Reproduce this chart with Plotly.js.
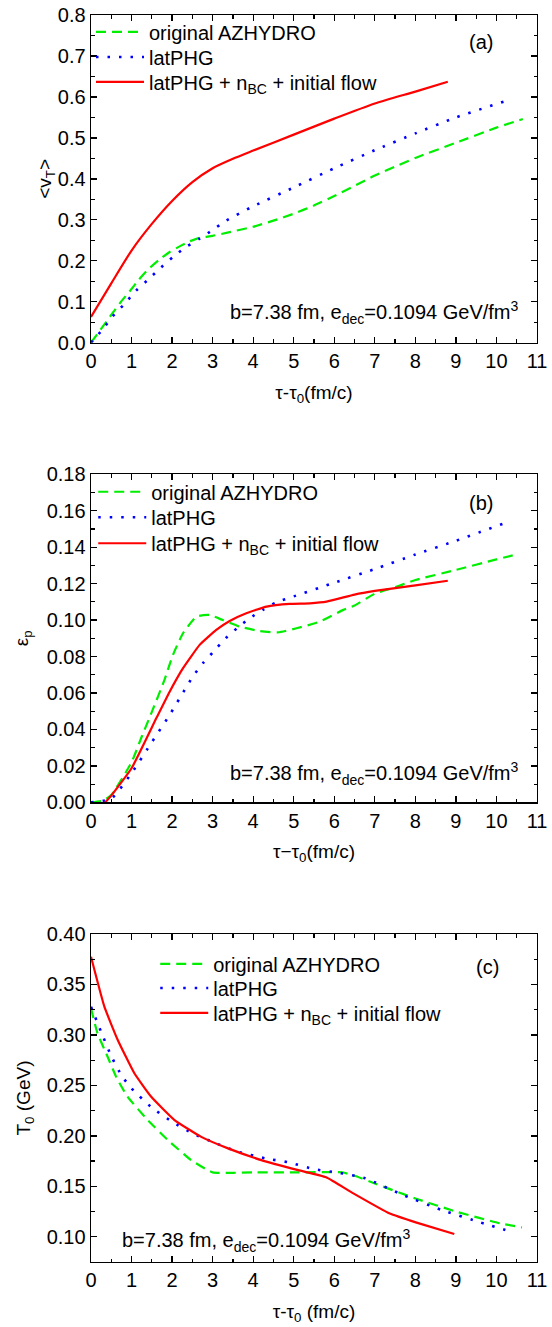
<!DOCTYPE html>
<html>
<head>
<meta charset="utf-8">
<script src="https://cdn.plot.ly/plotly-3.0.1.min.js"></script>
<style>html,body{margin:0;padding:0;background:#fff;}#chart{width:552px;height:1327px;}</style>
</head>
<body>
<div id="chart"></div>
<script>
// ---------- Data ----------
const seriesNames = ["original AZHYDRO", "latPHG", "latPHG + n<sub>BC</sub> + initial flow"];

// Panel (a): <v_T>
const a_orig_x = [0, 0.53, 0.74, 0.95, 1.18, 1.4, 1.69, 1.94, 2.22, 2.43, 2.68, 3.0, 3.42, 4, 4.5, 5, 5.5, 6, 6.5, 7, 7.5, 8, 9, 10, 10.65];
const a_orig_y = [0, 0.072, 0.100, 0.125, 0.154, 0.178, 0.203, 0.2215, 0.237, 0.2475, 0.256, 0.261, 0.270, 0.283, 0.298, 0.315, 0.335, 0.358, 0.383, 0.408, 0.430, 0.451, 0.488, 0.525, 0.546];
const a_lat_x = [0, 0.29, 0.53, 0.82, 1.11, 1.42, 1.73, 2.04, 2.35, 2.68, 2.99, 3.31, 4, 5, 6, 7, 8, 9, 10.2];
const a_lat_y = [0, 0.033, 0.064, 0.094, 0.127, 0.155, 0.184, 0.211, 0.234, 0.254, 0.2745, 0.2966, 0.333, 0.379, 0.426, 0.470, 0.511, 0.550, 0.589];
const a_full_x = [0, 0.5, 1, 1.5, 2, 2.5, 3, 3.5, 4, 5, 6, 7, 8, 8.8];
const a_full_y = [0.063, 0.145, 0.225, 0.290, 0.346, 0.392, 0.426, 0.449, 0.469, 0.508, 0.547, 0.584, 0.613, 0.637];

// Panel (b): epsilon_p
const b_orig_x = [0, 0.3, 0.5, 1, 1.25, 1.52, 1.81, 2.02, 2.27, 2.6, 2.92, 3.25, 3.67, 4.16, 4.61, 5.07, 5.64, 6.22, 6.5, 7, 7.5, 8, 9, 10, 10.5];
const b_orig_y = [0, 0.001, 0.004, 0.022, 0.036, 0.0507, 0.0671, 0.0808, 0.0928, 0.1019, 0.1028, 0.100, 0.0964, 0.094, 0.0933, 0.0955, 0.0991, 0.1056, 0.108, 0.1145, 0.118, 0.122, 0.1275, 0.1333, 0.136];
const b_lat_x = [0, 0.5, 1, 1.5, 1.94, 2.31, 2.51, 2.76, 3.02, 3.32, 3.63, 3.91, 4.24, 4.56, 5, 6, 7, 8, 9, 10.2];
const b_lat_y = [0, 0.002, 0.016, 0.033, 0.048, 0.0617, 0.069, 0.0763, 0.0827, 0.090, 0.0961, 0.101, 0.1056, 0.1096, 0.113, 0.1205, 0.128, 0.136, 0.1435, 0.1532];
const b_full_x = [0.35, 0.5, 1, 1.61, 1.94, 2.27, 2.68, 3.09, 3.42, 3.83, 4.33, 4.9, 5.4, 5.81, 6.5, 7, 8, 8.8];
const b_full_y = [0, 0.0037, 0.0187, 0.0461, 0.0607, 0.0736, 0.0864, 0.0946, 0.0995, 0.1037, 0.1074, 0.1089, 0.1092, 0.1101, 0.114, 0.116, 0.119, 0.1216];

// Panel (c): T_0 (GeV)
const c_orig_x = [0, 0.16, 0.41, 0.62, 0.9, 1.4, 1.89, 2.47, 3.0, 4, 5, 6.2, 6.47, 7.05, 8.0, 9.02, 10.09, 10.63];
const c_orig_y = [0.3264, 0.3016, 0.2784, 0.2586, 0.2388, 0.2157, 0.196, 0.176, 0.1638, 0.1638, 0.1638, 0.1638, 0.161, 0.152, 0.138, 0.1248, 0.1133, 0.1093];
const c_lat_x = [0, 0.25, 0.5, 0.75, 1, 1.5, 2, 2.5, 3, 3.6, 4.3, 4.9, 5.5, 6.1, 6.76, 7.7, 8.65, 9.6, 10.22];
const c_lat_y = [0.328, 0.303, 0.279, 0.260, 0.247, 0.228, 0.214, 0.2025, 0.194, 0.1845, 0.1777, 0.1735, 0.167, 0.1635, 0.158, 0.1413, 0.1265, 0.1143, 0.1067];
const c_full_x = [0, 0.33, 0.66, 1.07, 1.48, 2.06, 2.72, 3.38, 4.2, 5.11, 5.8, 6.47, 7.37, 8.03, 8.96];
const c_full_y = [0.3775, 0.328, 0.295, 0.262, 0.239, 0.2157, 0.199, 0.1876, 0.176, 0.166, 0.159, 0.143, 0.123, 0.114, 0.1027];

const panelLabels = ["(a)", "(b)", "(c)"];
const noteText = "b=7.38 fm, e<sub>dec</sub>=0.1094 GeV/fm<sup>3</sup>";

// ---------- Styles ----------
const FONT = "Liberation Sans, Arial, Helvetica, sans-serif";
const styles = [
  {color: "#00ee00", width: 2.2, dash: "10px,6px"},
  {color: "#0000ff", width: 2.6, dash: "2.5px,9px"},
  {color: "#ff0000", width: 2.2, dash: "solid"}
];

function mk(x, y, k, ax, leg, sm) {
  return {
    x: x, y: y, type: "scatter", mode: "lines", name: seriesNames[k],
    xaxis: "x" + ax, yaxis: "y" + ax, legend: leg,
    line: {color: styles[k].color, width: styles[k].width, dash: styles[k].dash, shape: "spline", smoothing: sm},
    hoverinfo: "skip"
  };
}

const traces = [
  mk(a_orig_x, a_orig_y, 0, "", "legend", 0.5),
  mk(a_lat_x, a_lat_y, 1, "", "legend2", 0.5),
  mk(a_full_x, a_full_y, 2, "", "legend3", 0.6),
  mk(b_orig_x, b_orig_y, 0, "2", "legend4", 0.5),
  mk(b_lat_x, b_lat_y, 1, "2", "legend5", 0.5),
  mk(b_full_x, b_full_y, 2, "2", "legend6", 0.4),
  mk(c_orig_x, c_orig_y, 0, "3", "legend7", 0.4),
  mk(c_lat_x, c_lat_y, 1, "3", "legend8", 0.5),
  mk(c_full_x, c_full_y, 2, "3", "legend9", 0.4)
];

function xax(anchor, titleText) {
  return {
    anchor: anchor, range: [0, 11], dtick: 1, tick0: 0,
    ticks: "inside", ticklen: 6, tickwidth: 1.3, tickcolor: "#000",
    minor: {dtick: 0.5, ticks: "inside", ticklen: 3.5, tickwidth: 1.2, tickcolor: "#000"},
    showline: true, linecolor: "#000", linewidth: 1.4, mirror: "ticks",
    showgrid: false, zeroline: false,
    tickfont: {family: FONT, size: 20, color: "#000"},
    title: {text: titleText, font: {family: FONT, size: 19, color: "#000"}, standoff: 14},
    domain: [0, 1], fixedrange: true
  };
}
function yax(anchor, domain, range, dtick, minorD, fmt, titleText, standoff) {
  return {
    anchor: anchor, domain: domain, range: range, dtick: dtick, tick0: 0, tickformat: fmt,
    ticks: "inside", ticklen: 6, tickwidth: 1.3, tickcolor: "#000",
    minor: {dtick: minorD, ticks: "inside", ticklen: 3.5, tickwidth: 1.2, tickcolor: "#000"},
    showline: true, linecolor: "#000", linewidth: 1.4, mirror: "ticks",
    showgrid: false, zeroline: false,
    tickfont: {family: FONT, size: 20, color: "#000"},
    title: {text: titleText, font: {family: FONT, size: 19, color: "#000"}, standoff: standoff},
    fixedrange: true
  };
}

function legendBox(x, y) {
  return {
    x: x, y: y, xanchor: "left", yanchor: "middle", xref: "paper", yref: "paper",
    bgcolor: "rgba(0,0,0,0)", borderwidth: 0, itemwidth: 48,
    font: {family: FONT, size: 20, color: "#000"},
    itemclick: false, itemdoubleclick: false
  };
}

const ann = (text, xref, yref, x, y, xanchor) => ({
  text: text, xref: xref, yref: yref, x: x, y: y, xanchor: xanchor, yanchor: "middle",
  showarrow: false, font: {family: FONT, size: 20, color: "#000"}
});

const layout = {
  width: 552, height: 1327,
  margin: {l: 91, r: 15, t: 15, b: 65},
  paper_bgcolor: "#fff", plot_bgcolor: "#fff",
  showlegend: true,
  xaxis: xax("y", "τ-τ<sub>0</sub>(fm/c)"),
  yaxis: yax("x", [0.7372, 1], [0, 0.8], 0.1, 0.05, ".1f", "&lt;v<sub>T</sub>&gt;", 1),
  xaxis2: xax("y2", "τ−τ<sub>0</sub>(fm/c)"),
  yaxis2: yax("x2", [0.3686, 0.6317], [0, 0.18], 0.02, 0.01, ".2f", "ε<sub>p</sub>", 13),
  xaxis3: xax("y3", "τ-τ<sub>0</sub> (fm/c)"),
  yaxis3: yax("x3", [0, 0.263], [0.075, 0.40], 0.05, 0.025, ".2f", "T<sub>0</sub> (GeV)", 11),
  legend: legendBox(0.0, 0.9864),
  legend2: legendBox(0.0, 0.9663),
  legend3: legendBox(0.0, 0.9463),
  legend4: legendBox(0.005, 0.6177),
  legend5: legendBox(0.005, 0.5972),
  legend6: legendBox(0.005, 0.5764),
  legend7: legendBox(0.144, 0.2390),
  legend8: legendBox(0.144, 0.2197),
  legend9: legendBox(0.144, 0.1997),
  annotations: [
    ann(noteText, "x", "y", 10.61, 0.073, "right"),
    ann(noteText, "x2", "y2", 10.61, 0.0159, "right"),
    ann(noteText, "x3", "y3", 0.72, 0.0967, "left"),
    ann(panelLabels[0], "x", "y", 9.61, 0.734, "center"),
    ann(panelLabels[1], "x2", "y2", 9.61, 0.1643, "center"),
    ann(panelLabels[2], "x3", "y3", 9.78, 0.367, "center")
  ]
};

Plotly.newPlot("chart", traces, layout, {staticPlot: true, displayModeBar: false});
</script>
</body>
</html>
